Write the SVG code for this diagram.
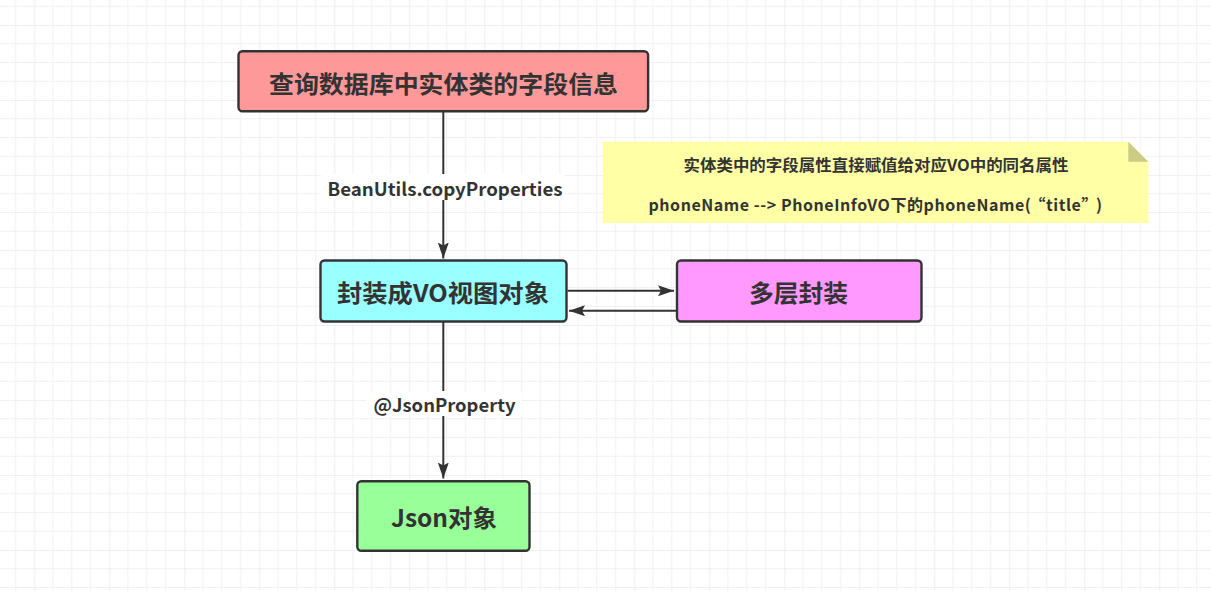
<svg xmlns="http://www.w3.org/2000/svg" width="1211" height="591" viewBox="0 0 1211 591">
<style>
.box{stroke:#333333;stroke-width:2.4}
.nt{font-family:"Noto Sans CJK SC","Liberation Sans",sans-serif;font-weight:bold;font-size:24px;fill:#333333;text-anchor:middle;dominant-baseline:central}
.lb{font-family:"Noto Sans CJK SC","Liberation Sans",sans-serif;font-weight:bold;font-size:18px;fill:#333333;text-anchor:middle;dominant-baseline:central}
.note{font-family:"Noto Sans CJK SC","Liberation Sans",sans-serif;font-weight:bold;font-size:15.5px;fill:#333333;text-anchor:middle;dominant-baseline:central}
.edge{stroke:#333333;stroke-width:2;fill:none}
</style>
<defs>
<pattern id="grid" patternUnits="userSpaceOnUse" x="34.3" y="25" width="75" height="75">
<path d="M18.75 0V75M37.5 0V75M56.25 0V75M0 18.75H75M0 37.5H75M0 56.25H75" stroke="#f1f1f1" stroke-width="1" fill="none"/>
<path d="M0 0V75M0 0H75" stroke="#e4e4e4" stroke-width="1.2" fill="none"/>
</pattern>
<marker id="arr" viewBox="0 0 16 11" refX="16" refY="5.5" markerWidth="16" markerHeight="11" markerUnits="userSpaceOnUse" orient="auto">
<path d="M0 0L16 5.5L0 11L3 5.5Z" fill="#333333"/>
</marker>
</defs>
<rect width="1211" height="591" fill="#ffffff"/>
<rect width="1211" height="591" fill="url(#grid)"/>

<g id="connectors">
<line class="edge" x1="443.3" y1="112" x2="443.3" y2="258.5" marker-end="url(#arr)"/>
<rect x="321" y="174" width="244" height="26" fill="#ffffff"/>
<text class="lb" x="445" y="188.3" textLength="235" lengthAdjust="spacingAndGlyphs">BeanUtils.copyProperties</text>
<line class="edge" x1="443.3" y1="322" x2="443.3" y2="478.5" marker-end="url(#arr)"/>
<rect x="366" y="391" width="156" height="25" fill="#ffffff"/>
<text class="lb" x="444.5" y="404" textLength="142" lengthAdjust="spacingAndGlyphs">@JsonProperty</text>
<line class="edge" x1="567.5" y1="290.7" x2="674" y2="290.7" marker-end="url(#arr)"/>
<line class="edge" x1="676" y1="310.7" x2="569" y2="310.7" marker-end="url(#arr)"/>
</g>

<g id="node-query">
<rect class="box" x="238.5" y="51.2" width="409.6" height="60" rx="4" fill="#ff9999"/>
<text class="nt" x="443.5" y="82.5" textLength="349" lengthAdjust="spacingAndGlyphs">查询数据库中实体类的字段信息</text>
</g>

<g id="node-note">
<path d="M602.7 141.7H1128.3L1148.3 161.7V223H602.7Z" fill="#ffffa6"/>
<path d="M1128.3 141.7L1148.3 161.7H1128.3Z" fill="#cccc85"/>
<text class="note" x="876" y="163.5" textLength="385" lengthAdjust="spacingAndGlyphs">实体类中的字段属性直接赋值给对应VO中的同名属性</text>
<text class="note" x="875.5" y="203.5" style="font-size:16px;letter-spacing:0.55px">phoneName --&gt; PhoneInfoVO下的phoneName(<tspan dx="6">“title”</tspan><tspan dx="6">)</tspan></text>
</g>

<g id="node-vo">
<rect class="box" x="320.5" y="260.5" width="246" height="61" rx="4" fill="#99ffff"/>
<text class="nt" x="443" y="291.7" textLength="212" lengthAdjust="spacingAndGlyphs">封装成VO视图对象</text>
</g>

<g id="node-multi">
<rect class="box" x="677" y="260.5" width="244.5" height="61" rx="4" fill="#ff99ff"/>
<text class="nt" x="798.5" y="291.7" textLength="99" lengthAdjust="spacingAndGlyphs">多层封装</text>
</g>

<g id="node-json">
<rect class="box" x="357.3" y="481.2" width="172.2" height="69.5" rx="4" fill="#99ff99"/>
<text class="nt" x="444" y="516.5" textLength="106" lengthAdjust="spacingAndGlyphs">Json对象</text>
</g>
</svg>
